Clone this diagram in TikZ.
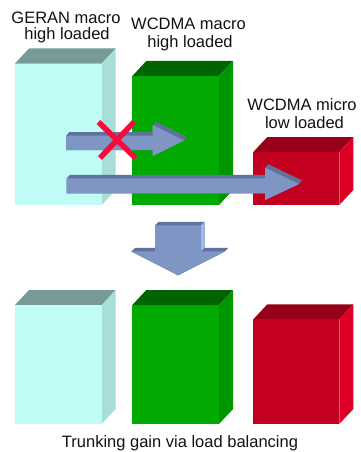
\documentclass[tikz,border=0pt]{standalone}
\usepackage{fontspec}
\setmainfont{Liberation Sans}
\definecolor{gerFront}{RGB}{192,252,246}
\definecolor{gerTop}{RGB}{118,154,150}
\definecolor{gerSide}{RGB}{168,222,216}
\definecolor{grnFront}{RGB}{0,170,0}
\definecolor{grnTop}{RGB}{0,100,0}
\definecolor{grnSide}{RGB}{0,150,0}
\definecolor{redFront}{RGB}{196,0,32}
\definecolor{redTop}{RGB}{150,0,24}
\definecolor{redSide}{RGB}{222,0,36}
\definecolor{arrFront}{RGB}{127,150,196}
\definecolor{arrDark}{RGB}{96,114,156}
\definecolor{arrLight}{RGB}{160,186,236}
\definecolor{crossRed}{RGB}{250,10,60}
\tikzset{
  label/.style={font=\fontsize{16.5}{17}\selectfont, anchor=base, inner sep=0pt, text=black!93},
}
% a block seen in perspective: front x1..x2, top..bottom, depth 14 right / 15 up
\newcommand\cellblock[7]{%
  \fill[#6] (#1,#3) -- (#1+14,#3-15) -- (#2+14,#3-15) -- (#2,#3) -- cycle;
  \fill[#7] (#2,#3) -- (#2+14,#3-15) -- (#2+14,#4-15) -- (#2,#4) -- cycle;
  \fill[#5] (#1,#3) rectangle (#2,#4);
}
% horizontal block arrow: x0, xb (head base), shaft top, shaft bottom, head top, head bottom, tip x, tip y
\newcommand\harrowpath[8]{(#1,#3) -- (#2,#3) -- (#2,#5) -- (#7,#8) -- (#2,#6) -- (#2,#4) -- (#1,#4) -- cycle}
\newcommand\flatarrow[8]{%
  \foreach \s in {0,0.1,...,1.01}
    \fill[arrDark, shift={(3*\s,-3.5*\s)}] \harrowpath{#1}{#2}{#3}{#4}{#5}{#6}{#7}{#8};
  \fill[arrFront] \harrowpath{#1}{#2}{#3}{#4}{#5}{#6}{#7}{#8};
}
\begin{document}
\begin{tikzpicture}[x=1pt,y=-1pt]
  \useasboundingbox (0,0) rectangle (360,452);
  \fill[white] (0,0) rectangle (360,452);

  % ---- before: three loaded cells ----
  \cellblock{15}{101.7}{63.5}{205}{gerFront}{gerTop}{gerSide}
  \cellblock{132.3}{219}{76}{205}{grnFront}{grnTop}{grnSide}
  \cellblock{253.3}{339.3}{152}{205}{redFront}{redTop}{redSide}

  \node[label] (gerA) at (66,23.3) {GERAN macro};
  \node[label] (gerB) at (67,40) {high loaded};
  \node[label] (wmaA) at (188.5,30) {WCDMA macro};
  \node[label] (wmaB) at (190,47.3) {high loaded};
  \node[label] (wmiA) at (302,110) {WCDMA micro};
  \node[label] (wmiB) at (304.5,128.3) {low loaded};

  % blocked move towards the macro cell
  \flatarrow{66}{152.7}{135.7}{150}{125}{156}{184}{140.5}
  % move towards the micro cell
  \flatarrow{66.7}{265}{178.3}{193.3}{167.7}{200}{299}{184}

  \draw[crossRed, line width=5.5pt] (98.5,122) -- (135.5,158);
  \draw[crossRed, line width=5.5pt] (134,122) -- (100,158);

  % ---- transition arrow ----
  \foreach \s in {0,0.1,...,1.01}
    \fill[arrDark, shift={(3.5*\s,-3.5*\s)}]
      (155,225.3) -- (201,225.3) -- (201,251.3) -- (225,251.3) -- (178,275.3)
      -- (131,251.3) -- (155,251.3) -- cycle;
  \fill[arrLight] (201,225.3) -- (204.5,221.8) -- (204.5,247.8) -- (201,251.3) -- cycle;
  \fill[arrFront]
      (155,225.3) -- (201,225.3) -- (201,251.3) -- (225,251.3) -- (178,275.3)
      -- (131,251.3) -- (155,251.3) -- cycle;

  % ---- after: balanced cells ----
  \cellblock{15}{101.7}{305}{424}{gerFront}{gerTop}{gerSide}
  \cellblock{132.3}{219}{305}{424}{grnFront}{grnTop}{grnSide}
  \cellblock{253.3}{339.3}{319.3}{424}{redFront}{redTop}{redSide}

  \node[label] (caption) at (180,447.3) {Trunking gain via load balancing};
\end{tikzpicture}
\end{document}
